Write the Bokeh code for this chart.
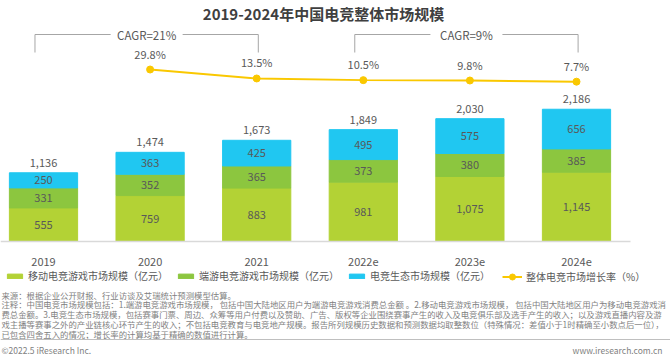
import numpy as np
from bokeh.plotting import figure
from bokeh.models import (ColumnDataSource, Range1d, FixedTicker, Legend,
                          LegendItem, Label, Span)
from bokeh.core.properties import value
from bokeh.embed import file_html
from bokeh.resources import INLINE

# ---------------- data ----------------
categories = ["2019", "2020", "2021", "2022e", "2023e", "2024e"]
mobile = [555, 759, 883, 981, 1075, 1145]
pc = [331, 352, 365, 373, 380, 385]
eco = [250, 363, 425, 495, 575, 656]
totals = [1136, 1474, 1673, 1849, 2030, 2186]
growth_years = ["2020", "2021", "2022e", "2023e", "2024e"]
growth = [29.8, 13.5, 10.5, 9.8, 7.7]
cagr_labels = ["CAGR=21%", "CAGR=9%"]
cagr_spans = [("2019", "2021"), ("2022e", "2024e")]
series_names = ["移动电竞游戏市场规模（亿元）", "端游电竞游戏市场规模（亿元）", "电竞生态市场规模（亿元）"]
line_name = "整体电竞市场增长率（%）"
title_text = "2019-2024年中国电竞整体市场规模"
notes = [
    "来源：根据企业公开财报、行业访谈及艾瑞统计预测模型估算。",
    "注释：中国电竞市场规模包括：1.端游电竞游戏市场规模， 包括中国大陆地区用户为端游电竞游戏消费总金额 。2.移动电竞游戏市场规模， 包括中国大陆地区用户为移动电竞游戏消",
    "费总金额。3.电竞生态市场规模，包括赛事门票、周边、众筹等用户付费以及赞助、广告、版权等企业围绕赛事产生的收入及电竞俱乐部及选手产生的收入；以及游戏直播内容及游",
    "戏主播等赛事之外的产业链核心环节产生的收入；不包括电竞教育与电竞地产规模。报告所列规模历史数据和预测数据均取整数位（特殊情况：差值小于1时精确至小数点后一位），",
    "已包含四舍五入的情况；增长率的计算均基于精确的数值进行计算。",
]
footer_left = "©2022.5 iResearch Inc."
footer_right = "www.iresearch.com.cn"

# ---------------- style / layout ----------------
FONT = "Noto Sans CJK SC"
C_MOBILE, C_PC, C_ECO, C_LINE = "#B3D235", "#8CC63F", "#20C7F1", "#FAC800"
TXT = "#595959"
NOTE = "#7F7F7F"

W, H = 670, 362
x0_px, step_px = 43.0, 106.6        # first bar centre, spacing
base_px, y_scale = 121.0, 0.0605    # baseline height from bottom, px per unit
rate_zero_px, rate_scale = 276.6, 0.55
axis_end_px = 630.0

x_start = -x0_px / step_px
x_end = x_start + W / step_px
y_start = -base_px / y_scale
y_end = y_start + H / y_scale
r_start = -rate_zero_px / rate_scale
r_end = r_start + H / rate_scale


def ydat(px_from_bottom):
    return y_start + px_from_bottom / y_scale


p = figure(width=W, height=H, x_range=Range1d(x_start, x_end),
           y_range=Range1d(y_start, y_end), output_backend="svg",
           toolbar_location=None, min_border=0, min_border_left=0,
           min_border_right=0, min_border_top=0, min_border_bottom=0,
           outline_line_color=None, background_fill_color="white",
           border_fill_color="white")
p.extra_y_ranges = {"rate": Range1d(r_start, r_end)}
p.grid.visible = False
p.yaxis.visible = False

xs = np.arange(len(categories))
idx = {c: i for i, c in enumerate(categories)}

# ---------------- stacked bars ----------------
src = ColumnDataSource(dict(x=xs, mobile=mobile, pc=pc, eco=eco))
rs = p.vbar_stack(["mobile", "pc", "eco"], x="x", width=0.64,
                  color=[C_MOBILE, C_PC, C_ECO], source=src)

m = np.array(mobile, float)
pcs = np.array(pc, float)
e = np.array(eco, float)
seg_x = np.concatenate([xs, xs, xs])
seg_y = np.concatenate([m / 2, m + pcs / 2, m + pcs + e / 2])
seg_t = [f"{int(v):,}" for v in np.concatenate([m, pcs, e])]
p.text(x=seg_x, y=seg_y, text=seg_t, text_align="center",
       text_baseline="middle", text_font=value(FONT),
       text_font_size="11px", text_color=TXT)

p.text(x=xs, y=totals, text=[f"{v:,}" for v in totals], text_align="center",
       text_baseline="middle", y_offset=-10, text_font=value(FONT),
       text_font_size="11px", text_color=TXT)

# ---------------- growth line ----------------
gx = [idx[c] for c in growth_years]
lr = p.line(gx, growth, y_range_name="rate", line_color=C_LINE, line_width=2)
sr = p.scatter(gx, growth, y_range_name="rate", size=7, fill_color=C_LINE,
               line_color=C_LINE)
p.text(x=gx, y=growth, text=[f"{v:.1f}%" for v in growth], y_range_name="rate",
       text_align="center", text_baseline="middle", y_offset=-16,
       text_font=value(FONT), text_font_size="11px", text_color=TXT)

# ---------------- CAGR brackets ----------------
y_top = ydat(328)
y_bot = ydat(310)
gap = 36 / step_px
bxs, bys, cx_list = [], [], []
for a, b in cagr_spans:
    left = idx[a] - 0.08
    right = idx[b] + 0.015
    cx = (left + right) / 2
    cx_list.append(cx)
    bxs += [[left, left, cx - gap], [cx + gap, right, right]]
    bys += [[y_bot, y_top, y_top], [y_top, y_top, y_bot]]
p.multi_line(bxs, bys, line_color="#A6A6A6", line_width=1)
p.text(x=cx_list, y=[y_top] * len(cx_list), text=cagr_labels,
       text_align="center", text_baseline="middle", text_font=value(FONT),
       text_font_size="11.5px", text_color=TXT)

# ---------------- x axis ----------------
ax = p.xaxis[0]
ax.ticker = FixedTicker(ticks=list(range(len(categories))))
ax.major_label_overrides = {i: c for i, c in enumerate(categories)}
ax.fixed_location = 0
ax.bounds = (x_start, (axis_end_px - x0_px) / step_px)
ax.axis_line_color = "#D9D9D9"
ax.axis_line_width = 1.5
ax.major_tick_line_color = None
ax.minor_tick_line_color = None
ax.major_label_standoff = 10
ax.major_label_text_font = FONT
ax.major_label_text_font_size = "11px"
ax.major_label_text_color = TXT

# ---------------- legends ----------------
leg_common = dict(orientation="horizontal", padding=0, margin=0,
                  border_line_color=None, background_fill_alpha=0,
                  label_text_font=FONT, label_text_font_size="10px",
                  label_text_color=TXT, label_standoff=4, spacing=8)
leg1 = Legend(items=[LegendItem(label=series_names[i], renderers=[rs[i]])
                     for i in range(3)],
              location=(5, 79), glyph_width=19, glyph_height=6,
              label_height=12, **leg_common)
leg2 = Legend(items=[LegendItem(label=line_name, renderers=[lr, sr])],
              location=(502, 78), glyph_width=20, glyph_height=15,
              label_height=15, **leg_common)
p.add_layout(leg1)
p.add_layout(leg2)

# ---------------- title ----------------
p.add_layout(Label(x=323, y=349, x_units="screen", y_units="screen",
                   text=title_text, text_align="center", text_baseline="middle",
                   text_font=FONT, text_font_size="15px",
                   text_font_style="bold", text_color="#3F3F3F"))

# ---------------- notes & footer ----------------
for k, line in enumerate(notes):
    p.add_layout(Label(x=1, y=68 - 9.75 * k, x_units="screen", y_units="screen",
                       text=line, text_align="left", text_baseline="middle",
                       text_font=FONT, text_font_size="8.4px",
                       text_color=NOTE))

p.add_layout(Span(location=ydat(23), dimension="width", line_color="#BFBFBF",
                  line_width=1))
p.add_layout(Label(x=1, y=13, x_units="screen", y_units="screen",
                   text=footer_left, text_align="left", text_baseline="middle",
                   text_font=FONT, text_font_size="8.5px", text_color=NOTE))
p.add_layout(Label(x=662, y=13, x_units="screen", y_units="screen",
                   text=footer_right, text_align="right",
                   text_baseline="middle", text_font=FONT,
                   text_font_size="8.5px", text_color=NOTE))

open("out.html", "w").write(file_html(p, INLINE))
